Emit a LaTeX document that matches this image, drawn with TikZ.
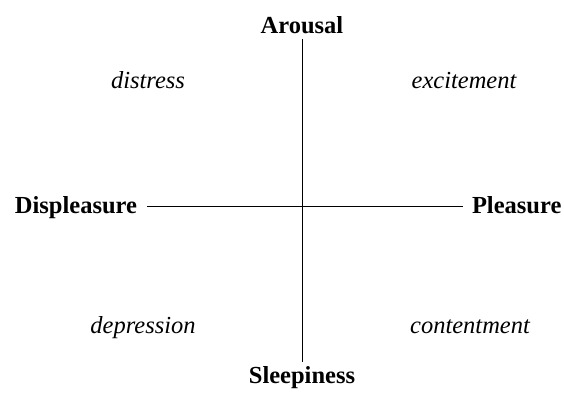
\documentclass[tikz,border=0pt]{standalone}
\usepackage{fontspec}
\setmainfont{Liberation Serif}
\begin{document}
\begin{tikzpicture}[x=1pt,y=-1pt,
	axislabel/.style={font=\fontsize{24.5}{28}\selectfont\bfseries,inner sep=0pt,outer sep=0pt},
	quadlabel/.style={font=\fontsize{24.5}{28}\selectfont\itshape,inner sep=0pt,anchor=base},
	axisline/.style={line width=0.9pt}]
	\useasboundingbox (0,0) rectangle (564,392);
	\coordinate (origin) at (302,206);
	\node[axislabel,anchor=base] (arousal) at (302,33) {Arousal};
	\node[axislabel,anchor=base] (sleep) at (302,383) {Sleepiness};
	\node[axislabel,anchor=base east] (displeasure) at (137,213) {Displeasure};
	\node[axislabel,anchor=base west] (pleasure) at (472,213) {Pleasure};
	\node[quadlabel] (distress) at (148,88) {distress};
	\node[quadlabel] (excitement) at (464,88) {excitement};
	\node[quadlabel] (depression) at (143,333) {depression};
	\node[quadlabel] (contentment) at (470,333) {contentment};
	\draw[axisline,shorten <=6pt,shorten >=4pt] (arousal.south) -- (sleep.north);
	\draw[axisline,shorten <=10pt,shorten >=9pt] (displeasure.east |- origin) -- (pleasure.west |- origin);
\end{tikzpicture}
\end{document}
